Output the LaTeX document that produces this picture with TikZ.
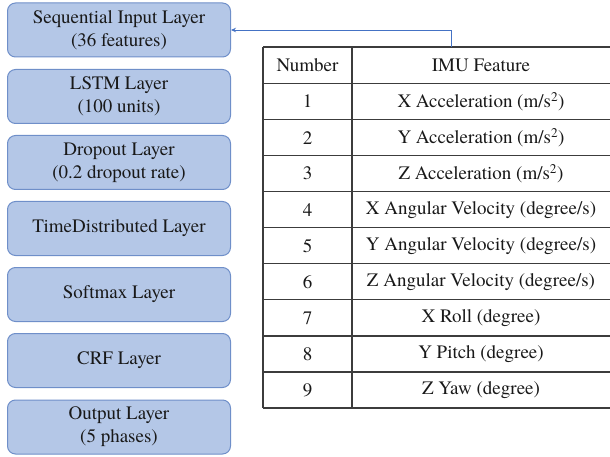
\documentclass[tikz,border=0pt]{standalone}
\usepackage{fontspec}
\setmainfont{texgyretermes}[Extension=.otf,UprightFont=*-regular,BoldFont=*-bold,ItalicFont=*-italic,BoldItalicFont=*-bolditalic]
\usetikzlibrary{positioning,arrows.meta}
\definecolor{boxfill}{HTML}{B4C7E7}
\definecolor{boxline}{HTML}{6F8FC9}
\definecolor{arrowblue}{HTML}{4472C4}
\definecolor{tabgray}{HTML}{3C3C3C}

\begin{document}
\begin{tikzpicture}[x=1pt,y=-1pt,
	every node/.style={text=black!90,font=\fontsize{19}{23}\selectfont},
	layerbox/.style={draw=boxline,fill=boxfill,rounded corners=8pt,line width=1pt,minimum width=223pt,minimum height=54pt,align=center,inner sep=0pt},
	tabline/.style={draw=tabgray,line width=1.2pt}]

\useasboundingbox (0,0) rectangle (610,457);

% layers of the network
\node[layerbox] (l1) at (119,30) {Sequential Input Layer\\(36 features)};
\node[layerbox] (l2) at (119,96.5) {LSTM Layer\\(100 units)};
\node[layerbox] (l3) at (119,162.5) {Dropout Layer\\(0.2 dropout rate)};
\node[layerbox] (l4) at (119,228.5) {TimeDistributed Layer};
\node[layerbox] (l5) at (119,294.5) {Softmax Layer};
\node[layerbox] (l6) at (119,360.5) {CRF Layer};
\node[layerbox] (l7) at (119,427) {Output Layer\\(5 phases)};

% feature table
\foreach \y in {47,83.5,119.6,155.6,191.7,227.7,263.8,299.8,335.9,371.9,408}
	\draw[tabline] (263,\y)--(610,\y);
\foreach \x in {263,352}
	\draw[tabline] (\x,47)--(\x,408);
\node (hnum) at (307.5,65.3) {Number};
\node (hfeat) at (481,65.3) {IMU Feature};
\foreach \n/\f in {1/{X Acceleration (m/s\textsuperscript{2})},2/{Y Acceleration (m/s\textsuperscript{2})},3/{Z Acceleration (m/s\textsuperscript{2})},4/{X Angular Velocity (degree/s)},5/{Y Angular Velocity (degree/s)},6/{Z Angular Velocity (degree/s)},7/X Roll (degree),8/Y Pitch (degree),9/Z Yaw (degree)}
{
	\node (num\n) at (307.5,{65.5+\n*36.05}) {\n};
	\node (feat\n) at (481,{65.5+\n*36.05}) {\f};
}

\coordinate (tabtop) at (451,47);
\draw[arrowblue,line width=0.9pt,-{Stealth[length=5pt,width=4.5pt]}] (tabtop) |- (l1.east);
\end{tikzpicture}
\end{document}
